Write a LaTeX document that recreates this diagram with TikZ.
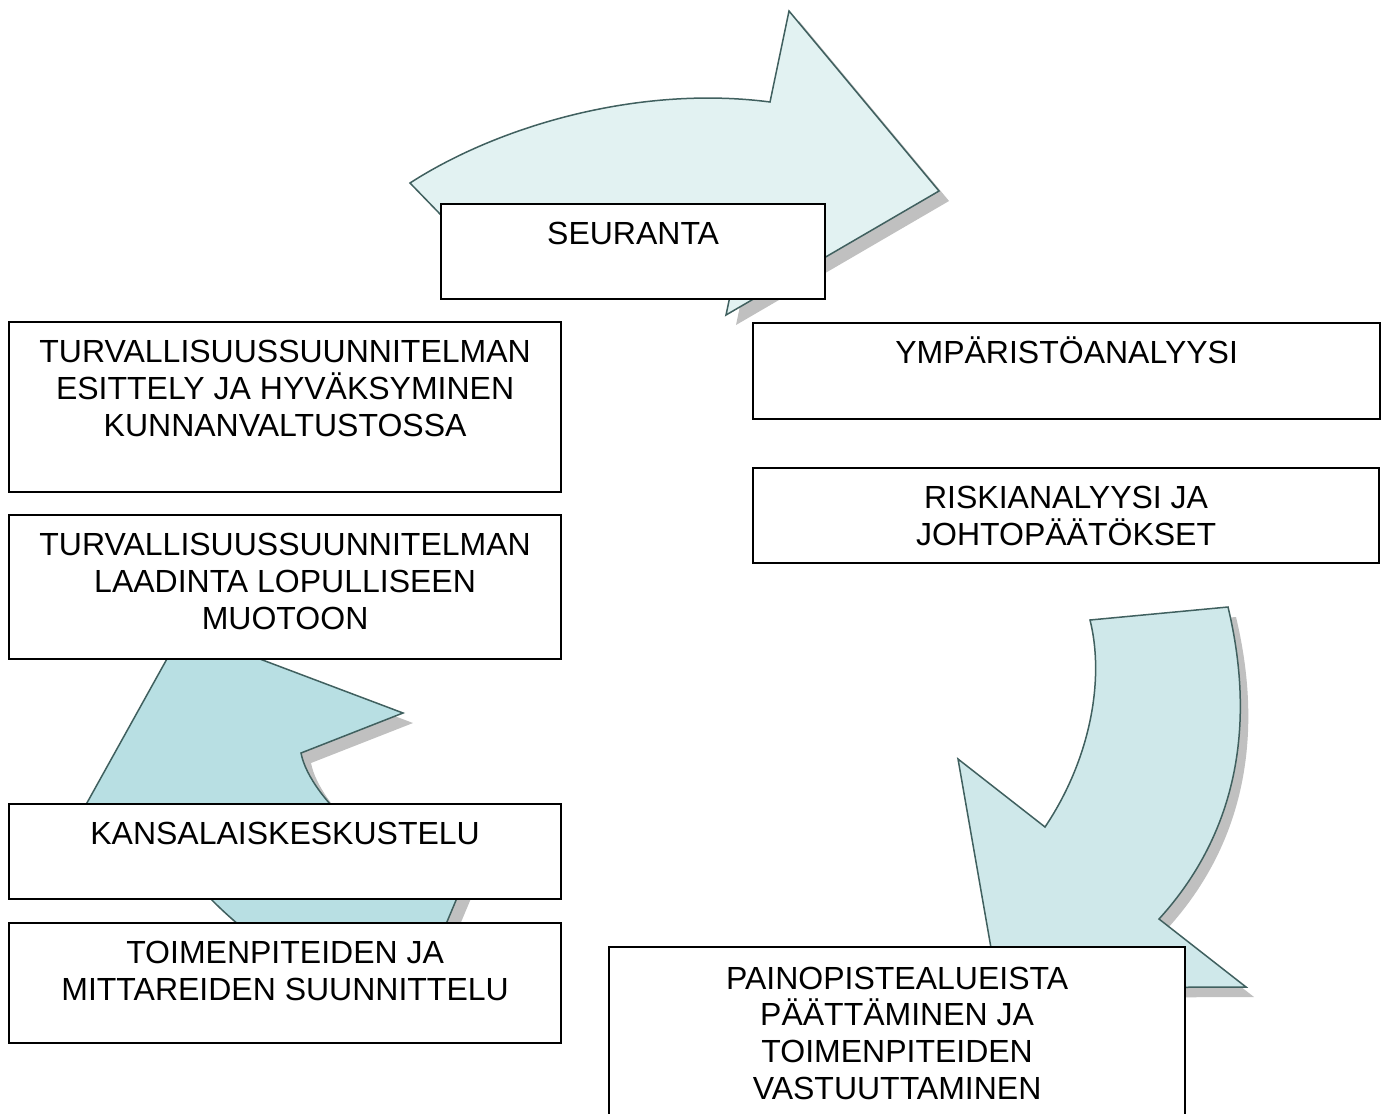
\documentclass[tikz,border=0pt]{standalone}
\usepackage{fontspec}
\setmainfont{Liberation Sans}
\definecolor{shadowgray}{HTML}{C0C0C0}
\definecolor{arrowline}{HTML}{40605F}
\definecolor{fillA}{HTML}{E2F2F2}
\definecolor{fillB}{HTML}{CFE8EA}
\definecolor{fillC}{HTML}{B8DFE3}
\begin{document}
\begin{tikzpicture}[x=0.5pt,y=-0.5pt,
  box/.style={draw=black, line width=1.1pt, fill=white, anchor=north west, inner sep=0pt},
  lbl/.style={anchor=base, inner sep=0pt, font=\fontsize{16pt}{18.4pt}\selectfont},
  shadowfill/.style={fill=shadowgray, draw=none},
  arr/.style={draw=arrowline, line width=0.75pt, line join=miter}]
\useasboundingbox (0,0) rectangle (1384,1113);
\clip (0,0) rectangle (1384,1113);
\fill[white] (0,0) rectangle (1384,1113);

% shadows
\fill[shadowfill, shift={(10,10)}] (410,183) .. controls (500,125) and (640,85) .. (770,102) -- (789,11) -- (939,191) -- (726,315) -- (745,225) .. controls (660,200) and (540,210) .. (470,245) -- cycle;
\fill[shadowfill, shift={(8,10)}] (1090,620) -- (1228,607) .. controls (1255,720) and (1240,830) .. (1159,919) -- (1246,987) -- (998,988) -- (958,759) -- (1045,827) .. controls (1090,760) and (1105,680) .. (1090,620) -- cycle;
\fill[shadowfill, shift={(10,10)}] (183,630) -- (403,713) -- (301,753) .. controls (310,800) and (390,870) .. (462,886) -- (410,1010) .. controls (300,990) and (190,900) .. (148,813) -- (63,846) -- cycle;

% arrows
\filldraw[arr, fill=fillA] (410,183) .. controls (500,125) and (640,85) .. (770,102) -- (789,11) -- (939,191) -- (726,315) -- (745,225) .. controls (660,200) and (540,210) .. (470,245) -- cycle;
\filldraw[arr, fill=fillB] (1090,620) -- (1228,607) .. controls (1255,720) and (1240,830) .. (1159,919) -- (1246,987) -- (998,988) -- (958,759) -- (1045,827) .. controls (1090,760) and (1105,680) .. (1090,620) -- cycle;
\filldraw[arr, fill=fillC] (183,630) -- (403,713) -- (301,753) .. controls (310,800) and (390,870) .. (462,886) -- (410,1010) .. controls (300,990) and (190,900) .. (148,813) -- (63,846) -- cycle;

% boxes
\node[box, minimum width=192pt, minimum height=47.5pt] (seur) at (440,203) {};
\node[box, minimum width=276pt, minimum height=85pt] (esit) at (8,321) {};
\node[box, minimum width=276pt, minimum height=72pt] (laad) at (8,514) {};
\node[box, minimum width=276pt, minimum height=47.5pt] (kans) at (8,803) {};
\node[box, minimum width=276pt, minimum height=60pt] (toim) at (8,922) {};
\node[box, minimum width=313.5pt, minimum height=48pt] (ymp) at (752,322) {};
\node[box, minimum width=313pt, minimum height=47.5pt] (risk) at (752,467) {};
\node[box, minimum width=288pt, minimum height=90pt] (pain) at (608,946) {};

% texts
\node[lbl] (tseur) at ([yshift=-20.75pt]seur.north) {\parbox[t]{180pt}{\centering SEURANTA}};
\node[lbl] (tesit) at ([yshift=-20.75pt]esit.north) {\parbox[t]{266pt}{\centering TURVALLISUUSSUUNNITELMAN\\ESITTELY JA HYVÄKSYMINEN\\KUNNANVALTUSTOSSA}};
\node[lbl] (tlaad) at ([yshift=-20.75pt]laad.north) {\parbox[t]{266pt}{\centering TURVALLISUUSSUUNNITELMAN\\LAADINTA LOPULLISEEN\\MUOTOON}};
\node[lbl] (tkans) at ([yshift=-20.75pt]kans.north) {\parbox[t]{266pt}{\centering KANSALAISKESKUSTELU}};
\node[lbl] (ttoim) at ([yshift=-20.75pt]toim.north) {\parbox[t]{266pt}{\centering TOIMENPITEIDEN JA\\MITTAREIDEN SUUNNITTELU}};
\node[lbl] (tymp) at ([yshift=-20.75pt]ymp.north) {\parbox[t]{300pt}{\centering YMPÄRISTÖANALYYSI}};
\node[lbl] (trisk) at ([yshift=-20.75pt]risk.north) {\parbox[t]{300pt}{\centering RISKIANALYYSI JA\\JOHTOPÄÄTÖKSET}};
\node[lbl] (tpain) at ([yshift=-21.5pt]pain.north) {\parbox[t]{278pt}{\centering PAINOPISTEALUEISTA\\PÄÄTTÄMINEN JA\\TOIMENPITEIDEN\\VASTUUTTAMINEN}};
\end{tikzpicture}
\end{document}
